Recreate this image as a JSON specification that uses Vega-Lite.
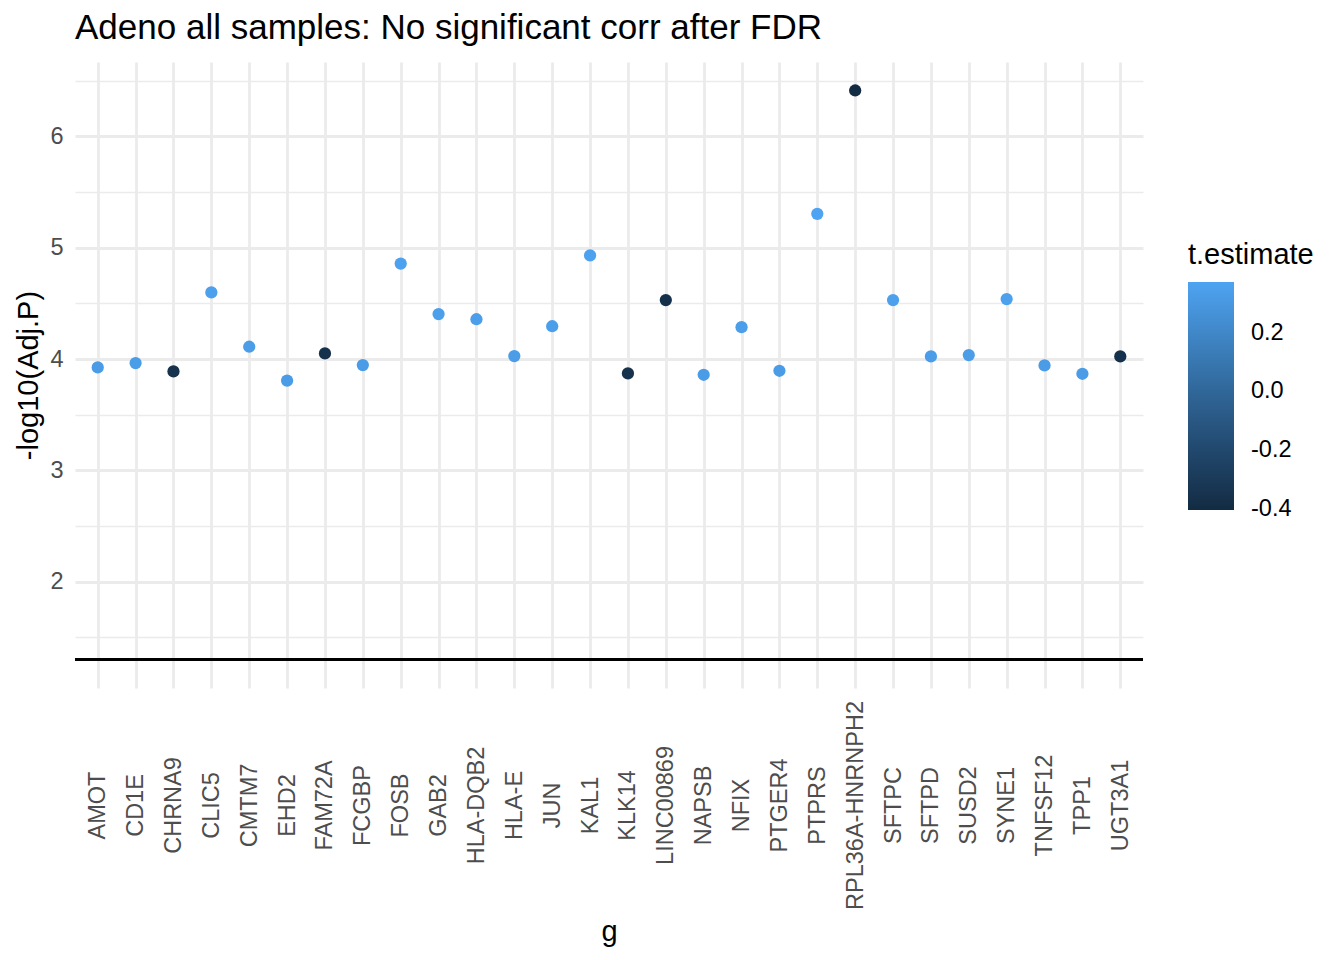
{
  "$schema": "https://vega.github.io/schema/vega-lite/v6.json",
  "width": 1068,
  "height": 626,
  "autosize": {"type": "none"},
  "padding": {"left": 75, "top": 62, "right": 201, "bottom": 272},
  "background": "white",
  "title": {
    "text": "Adeno all samples: No significant corr after FDR",
    "anchor": "start",
    "frame": "group",
    "fontSize": 35,
    "fontWeight": "normal",
    "color": "black",
    "offset": 16
  },
  "config": {"view": {"stroke": null}, "font": "Liberation Sans"},
  "datasets": {
    "genes": [
      {"g": "AMOT", "p": 3.925, "t": 0.329},
      {"g": "CD1E", "p": 3.964, "t": 0.33},
      {"g": "CHRNA9", "p": 3.889, "t": -0.355},
      {"g": "CLIC5", "p": 4.599, "t": 0.351},
      {"g": "CMTM7", "p": 4.111, "t": 0.335},
      {"g": "EHD2", "p": 3.807, "t": 0.325},
      {"g": "FAM72A", "p": 4.051, "t": -0.36},
      {"g": "FCGBP", "p": 3.946, "t": 0.329},
      {"g": "FOSB", "p": 4.858, "t": 0.359},
      {"g": "GAB2", "p": 4.404, "t": 0.344},
      {"g": "HLA-DQB2", "p": 4.358, "t": 0.343},
      {"g": "HLA-E", "p": 4.027, "t": 0.332},
      {"g": "JUN", "p": 4.295, "t": 0.341},
      {"g": "KAL1", "p": 4.931, "t": 0.361},
      {"g": "KLK14", "p": 3.871, "t": -0.353},
      {"g": "LINC00869", "p": 4.53, "t": -0.37},
      {"g": "NAPSB", "p": 3.859, "t": 0.327},
      {"g": "NFIX", "p": 4.287, "t": 0.341},
      {"g": "PTGER4", "p": 3.895, "t": 0.328},
      {"g": "PTPRS", "p": 5.305, "t": 0.374},
      {"g": "RPL36A-HNRNPH2", "p": 6.413, "t": -0.405},
      {"g": "SFTPC", "p": 4.53, "t": 0.349},
      {"g": "SFTPD", "p": 4.024, "t": 0.332},
      {"g": "SUSD2", "p": 4.036, "t": 0.332},
      {"g": "SYNE1", "p": 4.539, "t": 0.349},
      {"g": "TNFSF12", "p": 3.943, "t": 0.329},
      {"g": "TPP1", "p": 3.868, "t": 0.327},
      {"g": "UGT3A1", "p": 4.024, "t": -0.36}
    ]
  },
  "data": {"name": "genes"},
  "layer": [
    {
      "mark": {"type": "point", "filled": true, "size": 150, "opacity": 1},
      "encoding": {
        "x": {
          "field": "g",
          "type": "nominal",
          "sort": null,
          "scale": {"type": "point", "padding": 0.6},
          "axis": {
            "title": "g",
            "titleFontSize": 29,
            "titleFontWeight": "normal",
            "titleColor": "black",
            "titlePadding": 29,
            "labelAngle": -90,
            "labelAlign": "center",
            "labelBaseline": "middle",
            "labelFontSize": 23.5,
            "labelColor": "#4D4D4D",
            "labelPadding": 117,
            "labelLimit": 0,
            "ticks": false,
            "domain": false,
            "grid": true,
            "gridColor": "#EBEBEB",
            "gridWidth": 2.8
          }
        },
        "y": {
          "field": "p",
          "type": "quantitative",
          "scale": {"domain": [1.045, 6.669], "nice": false, "zero": false},
          "axis": {
            "title": "-log10(Adj.P)",
            "titleFontSize": 29,
            "titleFontWeight": "normal",
            "titleColor": "black",
            "titlePadding": 6,
            "values": [1.5, 2, 2.5, 3, 3.5, 4, 4.5, 5, 5.5, 6, 6.5],
            "labelExpr": "datum.value % 1 == 0 ? format(datum.value, 'd') : ''",
            "labelFontSize": 23.5,
            "labelColor": "#4D4D4D",
            "labelPadding": 12,
            "ticks": false,
            "domain": false,
            "grid": true,
            "gridColor": "#EBEBEB",
            "gridWidth": {"condition": {"test": "datum.value % 1 == 0", "value": 2.8}, "value": 1.4}
          }
        },
        "color": {
          "field": "t",
          "type": "quantitative",
          "scale": {
            "domain": [-0.405, 0.374],
            "range": ["#132B43", "#4EA4F2"],
            "interpolate": "lab"
          },
          "legend": {
            "orient": "none",
            "legendX": 1113,
            "legendY": 179,
            "direction": "vertical",
            "title": "t.estimate",
            "titleFontSize": 29,
            "titleFontWeight": "normal",
            "titleColor": "black",
            "titlePadding": 12,
            "gradientLength": 228,
            "gradientThickness": 46,
            "gradientStrokeWidth": 0,
            "values": [-0.4, -0.2, 0, 0.2],
            "labelExpr": "datum.value == 0 ? '0.0' : '' + datum.value",
            "labelFontSize": 23.5,
            "labelColor": "black",
            "labelOffset": 17,
            "labelOverlap": false
          }
        }
      }
    },
    {
      "data": {"values": [{"cut": 1.30103}]},
      "mark": {"type": "rule", "color": "black", "strokeWidth": 2.8},
      "encoding": {"y": {"field": "cut", "type": "quantitative"}}
    }
  ]
}
